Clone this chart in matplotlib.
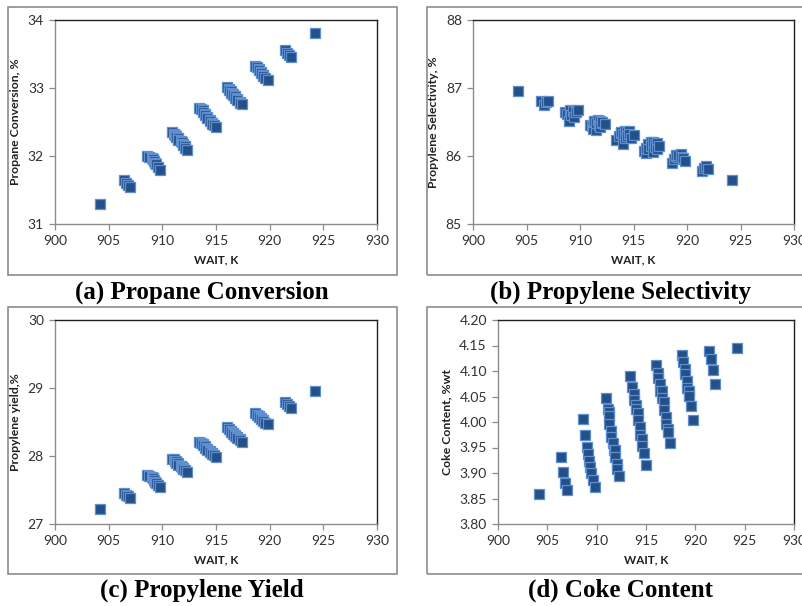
import matplotlib.pyplot as plt
from matplotlib.patches import Rectangle

# WAIT (K), shared by all four panels, grouped by cluster
wait = [904.2,
        906.4, 906.6, 906.8, 907.0,
        908.6, 908.8, 909.0, 909.1, 909.2, 909.3, 909.4, 909.6, 909.8,
        910.9, 911.1, 911.2, 911.3, 911.3, 911.5, 911.5, 911.7, 911.8, 911.9, 911.9, 912.1, 912.1, 912.3,
        913.4, 913.6, 913.8, 913.8, 914.0, 914.0, 914.2, 914.2, 914.4, 914.4, 914.6, 914.6, 914.8, 915.0,
        916.0, 916.2, 916.2, 916.4, 916.4, 916.6, 916.6, 916.8, 916.8, 917.0, 917.0, 917.2, 917.2, 917.4,
        918.6, 918.8, 919.0, 919.0, 919.2, 919.2, 919.4, 919.4, 919.6, 919.8,
        921.4, 921.6, 921.8, 922.0,
        924.2]

conversion = [31.30,
              31.64, 31.61, 31.58, 31.55,
              32.00, 31.99, 31.97, 31.95, 31.93, 31.90, 31.88, 31.84, 31.79,
              32.35, 32.33, 32.31, 32.30, 32.28, 32.26, 32.24, 32.22, 32.20, 32.18, 32.16, 32.14, 32.12, 32.09,
              32.71, 32.69, 32.67, 32.65, 32.62, 32.60, 32.58, 32.56, 32.53, 32.51, 32.49, 32.47, 32.45, 32.42,
              33.01, 32.99, 32.97, 32.95, 32.93, 32.91, 32.89, 32.88, 32.86, 32.84, 32.82, 32.80, 32.78, 32.76,
              33.33, 33.31, 33.28, 33.26, 33.24, 33.22, 33.19, 33.17, 33.14, 33.12,
              33.56, 33.52, 33.49, 33.46,
              33.81]

selectivity = [86.96,
               86.81, 86.75, 86.79, 86.81,
               86.64, 86.62, 86.52, 86.68, 86.60, 86.66, 86.58, 86.65, 86.67,
               86.46, 86.44, 86.40, 86.50, 86.52, 86.38, 86.48, 86.53, 86.45, 86.51, 86.42, 86.49, 86.50, 86.47,
               86.24, 86.30, 86.34, 86.36, 86.18, 86.33, 86.37, 86.26, 86.35, 86.29, 86.37, 86.33, 86.27, 86.31,
               86.08, 86.04, 86.12, 86.18, 86.10, 86.21, 86.15, 86.20, 86.06, 86.17, 86.13, 86.19, 86.11, 86.15,
               85.90, 85.96, 86.00, 86.02, 85.98, 86.01, 86.03, 85.99, 85.97, 85.92,
               85.78, 85.82, 85.85, 85.81,
               85.65]

yield_ = [27.22,
          27.46, 27.43, 27.41, 27.38,
          27.72, 27.71, 27.69, 27.67, 27.65, 27.62, 27.60, 27.57, 27.54,
          27.96, 27.95, 27.93, 27.92, 27.90, 27.89, 27.87, 27.86, 27.84, 27.83, 27.81, 27.80, 27.79, 27.77,
          28.21, 28.19, 28.17, 28.16, 28.14, 28.12, 28.11, 28.09, 28.07, 28.06, 28.04, 28.03, 28.01, 27.99,
          28.42, 28.40, 28.39, 28.37, 28.35, 28.34, 28.32, 28.31, 28.29, 28.28, 28.26, 28.25, 28.23, 28.21,
          28.63, 28.61, 28.59, 28.57, 28.56, 28.54, 28.53, 28.51, 28.49, 28.47,
          28.79, 28.76, 28.74, 28.71,
          28.96]

coke = [3.859,
        3.932, 3.902, 3.881, 3.866,
        4.005, 3.975, 3.951, 3.938, 3.924, 3.911, 3.900, 3.887, 3.873,
        4.047, 4.026, 4.020, 4.011, 3.996, 3.982, 3.971, 3.959, 3.945, 3.945, 3.932, 3.918, 3.907, 3.895,
        4.090, 4.068, 4.055, 4.043, 4.033, 4.025, 4.018, 4.004, 3.990, 3.975, 3.967, 3.953, 3.939, 3.916,
        4.111, 4.097, 4.086, 4.075, 4.060, 4.060, 4.047, 4.039, 4.024, 4.010, 3.996, 3.987, 3.980, 3.959,
        4.132, 4.118, 4.104, 4.094, 4.081, 4.067, 4.060, 4.051, 4.031, 4.003,
        4.139, 4.124, 4.102, 4.075,
        4.145]

x_ticks = [900, 905, 910, 915, 920, 925, 930]

W, H = 802, 606
fig = plt.figure(figsize=(W / 100, H / 100), dpi=100)


def px_axes(left, top, right, bottom):
    return fig.add_axes([left / W, 1 - bottom / H, (right - left) / W, (bottom - top) / H])


def frame(left, top, right, bottom):
    fig.patches.append(Rectangle((left / W, 1 - bottom / H), (right - left) / W, (bottom - top) / H,
                                 transform=fig.transFigure, fill=False, edgecolor='#8c8c8c', linewidth=1.2))


def panel(box, y, ylim, yticks, yfmt, ylabel, title, title_x, title_y):
    ax = px_axes(*box)
    ax.scatter(wait, y, marker='s', s=42, color='#24508a', edgecolors='#5f8fcf', linewidths=0.9,
               zorder=3, clip_on=False)
    ax.set_xlim(900, 930)
    ax.set_ylim(*ylim)
    ax.set_xticks(x_ticks)
    ax.set_yticks(yticks)
    ax.set_yticklabels([yfmt.format(v) for v in yticks])
    for side in ['top', 'right']:
        ax.spines[side].set_color('#202020')
        ax.spines[side].set_linewidth(1.0)
    for side in ['left', 'bottom']:
        ax.spines[side].set_color('#8c8c8c')
        ax.spines[side].set_linewidth(1.0)
    ax.tick_params(direction='out', length=4, width=0.9, color='#8c8c8c', labelcolor='#303030',
                   labelsize=10, pad=4)
    for lab in ax.get_xticklabels() + ax.get_yticklabels():
        lab.set_family('Lato')
    ax.set_xlabel('WAIT, K', fontsize=8.4, fontweight='bold', family='Lato', color='#202020', labelpad=5)
    ax.set_ylabel(ylabel, fontsize=8.8, fontweight='bold', family='Lato', color='#202020', labelpad=5)
    fig.text(title_x / W, 1 - title_y / H, title, ha='center', va='center', fontsize=18,
             fontweight='bold', family='Liberation Serif')
    return ax


frame(8, 7, 397, 275)
frame(427, 7, 830, 275)
frame(8, 307, 397, 574)
frame(427, 307, 830, 574)

panel((55, 20, 377, 224), conversion, (31, 34), [31, 32, 33, 34], '{:.0f}',
      'Propane Conversion, %', '(a) Propane Conversion', 202, 292)
panel((473, 20, 794, 224), selectivity, (85, 88), [85, 86, 87, 88], '{:.0f}',
      'Propylene Selectivity, %', '(b) Propylene Selectivity', 621, 292)
panel((55, 320, 377, 524), yield_, (27, 30), [27, 28, 29, 30], '{:.0f}',
      'Propylene yield,%', '(c) Propylene Yield', 202, 590)
panel((498, 320, 794, 524), coke, (3.80, 4.20),
      [3.80, 3.85, 3.90, 3.95, 4.00, 4.05, 4.10, 4.15, 4.20], '{:.2f}',
      'Coke Content, %wt', '(d) Coke Content', 621, 590)

fig.savefig('out.png', dpi=100)
